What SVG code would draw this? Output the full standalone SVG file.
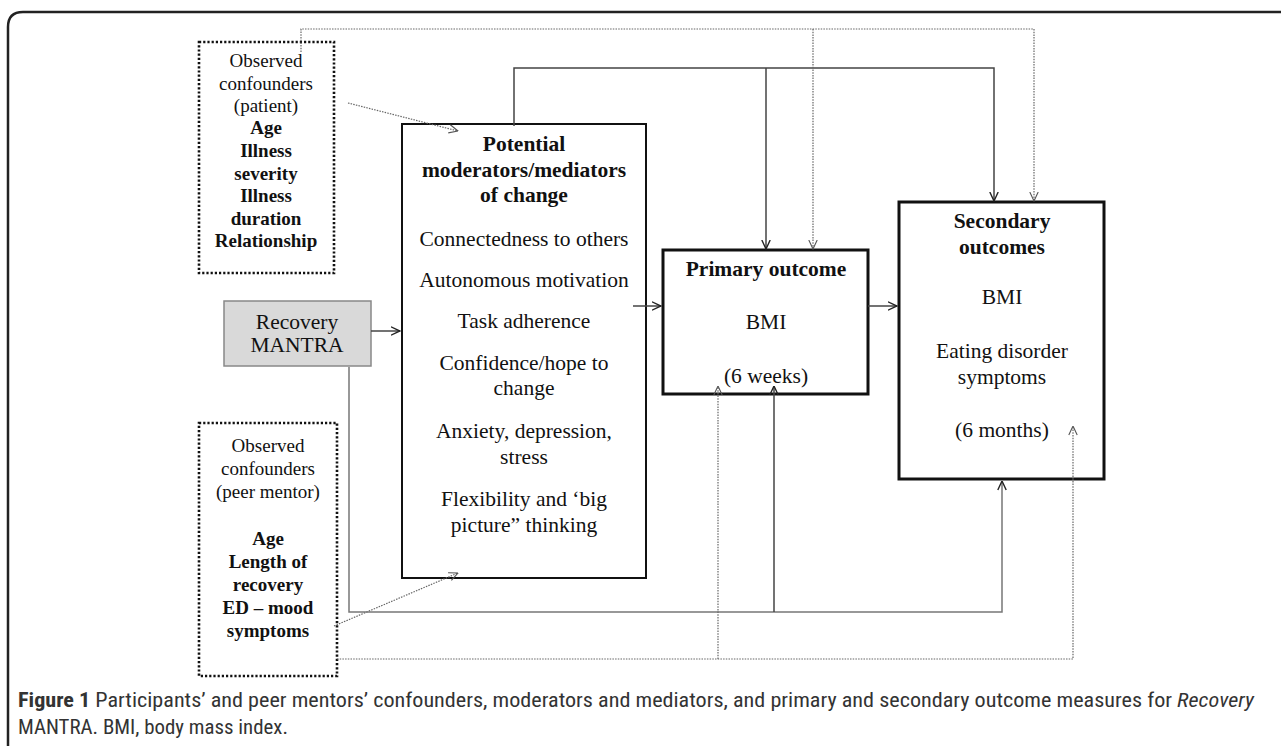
<svg xmlns="http://www.w3.org/2000/svg" width="1281" height="746" viewBox="0 0 1281 746">
<style>
.t{font-family:"Liberation Serif","Times New Roman",serif;fill:#111;text-anchor:middle}
.r{font-size:21.5px}
.b{font-size:21.5px;font-weight:bold}
.s{font-size:19px}
.sb{font-size:19px;font-weight:bold}
.box{fill:#fff;stroke:#111}
.dbox{fill:#fff;stroke:#111;stroke-width:2.6;stroke-dasharray:2.2 2}
.sol{fill:none;stroke:#444;stroke-width:1.5}
.dot{fill:none;stroke:#666;stroke-width:1.2;stroke-dasharray:1.5 1.2}
.cap{font-family:"Liberation Sans Narrow","Roboto Condensed","Liberation Sans",Arial,sans-serif;font-size:21px;fill:#333}
</style>
<defs>
<marker id="as" viewBox="0 0 10 10" refX="9.5" refY="5" markerWidth="10" markerHeight="10" markerUnits="userSpaceOnUse" orient="auto"><path d="M0.5,0.8 L9.5,5 L0.5,9.2" fill="none" stroke="#222" stroke-width="1.4"/></marker>
<marker id="ad" viewBox="0 0 10 10" refX="9.5" refY="5" markerWidth="10" markerHeight="10" markerUnits="userSpaceOnUse" orient="auto"><path d="M0.5,0.8 L9.5,5 L0.5,9.2" fill="none" stroke="#555" stroke-width="1.1"/></marker>
</defs>
<rect width="1281" height="746" fill="#fff"/>
<path d="M8,746 V27 Q8,12 23,12 H1281" fill="none" stroke="#222" stroke-width="2.5"/>

<g id="confounders-patient">
<rect class="dbox" x="199" y="42" width="135" height="231"/>
<text class="t s" x="266" y="67">Observed</text>
<text class="t s" x="266" y="90">confounders</text>
<text class="t s" x="266" y="112">(patient)</text>
<text class="t sb" x="266" y="134">Age</text>
<text class="t sb" x="266" y="157">Illness</text>
<text class="t sb" x="266" y="180">severity</text>
<text class="t sb" x="266" y="202">Illness</text>
<text class="t sb" x="266" y="225">duration</text>
<text class="t sb" x="266" y="247">Relationship</text>
</g>

<g id="recovery-mantra">
<rect x="224" y="301" width="147" height="65" fill="#d9d9d9" stroke="#888" stroke-width="1.5"/>
<text class="t r" x="297" y="329">Recovery</text>
<text class="t r" x="297" y="352">MANTRA</text>
</g>

<g id="confounders-mentor">
<rect class="dbox" x="199" y="423" width="138" height="253"/>
<text class="t s" x="268" y="452">Observed</text>
<text class="t s" x="268" y="475">confounders</text>
<text class="t s" x="268" y="498">(peer mentor)</text>
<text class="t sb" x="268" y="545">Age</text>
<text class="t sb" x="268" y="568">Length of</text>
<text class="t sb" x="268" y="591">recovery</text>
<text class="t sb" x="268" y="614">ED – mood</text>
<text class="t sb" x="268" y="637">symptoms</text>
</g>

<g id="moderators">
<rect class="box" x="402" y="124" width="244" height="454" stroke-width="2"/>
<text class="t b" x="524" y="151">Potential</text>
<text class="t b" x="524" y="177">moderators/mediators</text>
<text class="t b" x="524" y="202">of change</text>
<text class="t r" x="524" y="246">Connectedness to others</text>
<text class="t r" x="524" y="287">Autonomous motivation</text>
<text class="t r" x="524" y="328">Task adherence</text>
<text class="t r" x="524" y="370">Confidence/hope to</text>
<text class="t r" x="524" y="395">change</text>
<text class="t r" x="524" y="438">Anxiety, depression,</text>
<text class="t r" x="524" y="464">stress</text>
<text class="t r" x="524" y="506">Flexibility and ‘big</text>
<text class="t r" x="524" y="532">picture” thinking</text>
</g>

<g id="primary">
<rect class="box" x="663" y="250" width="205" height="144" stroke-width="3"/>
<text class="t b" x="766" y="276">Primary outcome</text>
<text class="t r" x="766" y="329">BMI</text>
<text class="t r" x="766" y="383">(6 weeks)</text>
</g>

<g id="secondary">
<rect class="box" x="899" y="202" width="205" height="277" stroke-width="3"/>
<text class="t b" x="1002" y="228">Secondary</text>
<text class="t b" x="1002" y="254">outcomes</text>
<text class="t r" x="1002" y="304">BMI</text>
<text class="t r" x="1002" y="358">Eating disorder</text>
<text class="t r" x="1002" y="384">symptoms</text>
<text class="t r" x="1002" y="437">(6 months)</text>
</g>

<g id="connectors">
<path class="sol" d="M514,126 V68 H994 V201" marker-end="url(#as)"/>
<path class="sol" d="M766,68 V249" marker-end="url(#as)"/>
<path class="dot" d="M301,52 V29 H1034 V201" marker-end="url(#ad)"/>
<path class="dot" d="M813,29 V249" marker-end="url(#ad)"/>
<path class="dot" d="M348,103 L458,131" marker-end="url(#ad)"/>
<path class="dot" d="M334,626 L458,573" marker-end="url(#ad)"/>
<path class="sol" d="M371,331 H400" marker-end="url(#as)"/>
<path class="sol" d="M633,306 H661" marker-end="url(#as)"/>
<path class="sol" d="M868,306 H897" marker-end="url(#as)"/>
<path class="sol" style="stroke:#777" d="M349,367 V612 H1002 V481" marker-end="url(#as)"/>
<path class="sol" d="M774,612 V386" marker-end="url(#as)"/>
<path class="dot" d="M337,659 H1073 V426" marker-end="url(#ad)"/>
<path class="dot" d="M718,659 V386" marker-end="url(#ad)"/>
</g>

<g id="caption">
<text class="cap" x="18" y="707" textLength="1236" lengthAdjust="spacingAndGlyphs"><tspan font-weight="bold">Figure 1</tspan> Participants’ and peer mentors’ confounders, moderators and mediators, and primary and secondary outcome measures for <tspan font-style="italic">Recovery</tspan></text>
<text class="cap" x="18" y="734" textLength="270" lengthAdjust="spacingAndGlyphs">MANTRA. BMI, body mass index.</text>
</g>
</svg>
